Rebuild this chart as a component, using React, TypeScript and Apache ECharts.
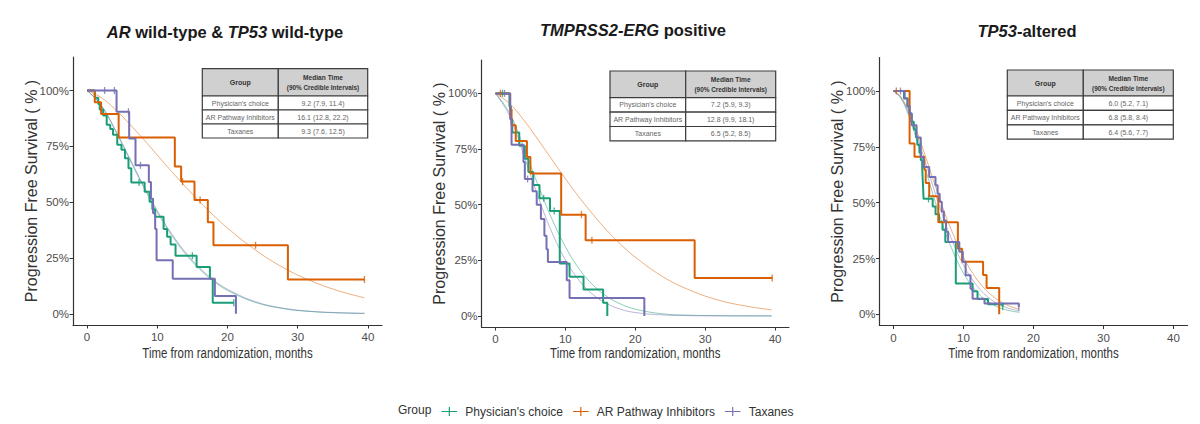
import React, { useEffect, useRef } from 'react';
import * as echarts from 'echarts';

type Pt = [number, number];

// ---------- shared labels ----------
const GROUPS = ["Physician's choice", 'AR Pathway Inhibitors', 'Taxanes'];
const X_TICKS = [0, 10, 20, 30, 40];
const Y_TICKS = [0, 25, 50, 75, 100];
const PANEL_TITLES = ['{i|AR} wild-type & {i|TP53} wild-type', '{i|TMPRSS2-ERG} positive', '{i|TP53}-altered'];
const X_NAME = 'Time from randomization, months';
const Y_NAME = 'Progression Free Survival ( % )';
const TABLE_HEADER = ['Group', 'Median Time', '(90% Credible Intervals)'];
const LEGEND_TITLE = 'Group';

// ---------- Panel 1: AR wild-type & TP53 wild-type ----------
const km1Phys: Pt[] = [[0, 100], [1.1, 96.7], [1.6, 94], [1.8, 91.5], [2.3, 88.8], [2.8, 84.7], [3.3, 82.8], [3.7, 80.2], [4.3, 75.7], [4.9, 73.5], [5.4, 69.7], [5.9, 65.2], [6.3, 58.8], [8.2, 54.7], [8.9, 50.2], [9.3, 46.8], [9.7, 43.5], [10.9, 38], [11.4, 34.5], [11.9, 31], [12.6, 26], [15.6, 21], [17.5, 15.7], [17.9, 5], [20.9, 5]];
const km1Arpi: Pt[] = [[0, 100], [1.1, 94.7], [2.0, 89.5], [4.5, 79], [12.5, 66], [13.4, 59.2], [15.3, 51], [17.2, 41], [18.0, 30.7], [28.6, 15.4], [39.5, 15.4]];
const km1Tax: Pt[] = [[0, 100], [4.2, 90.5], [6.0, 78.5], [6.9, 66.5], [8.8, 59], [9.1, 51.5], [9.4, 45], [9.7, 38], [9.9, 24], [12.2, 15.7], [18.2, 8], [21.2, 0]];
const cens1Phys: Pt[] = [[7.4, 58.8], [15.0, 26], [20.9, 5]];
const cens1Arpi: Pt[] = [[13.6, 59.2], [16.1, 51], [24.0, 30.7], [39.5, 15.4]];
const cens1Tax: Pt[] = [[2.5, 100], [3.9, 100], [5.9, 90.5], [7.6, 66.5]];
const fit1T = [0, 2, 4, 6, 8, 10, 12, 14, 16, 18, 20, 24, 28, 32, 36, 39.5];
const fit1Phys = [100, 93.4, 82.2, 69.6, 57.1, 45.5, 35.4, 26.9, 20.1, 14.7, 10.5, 5.1, 2.3, 1.0, 0.4, 0.2];
const fit1Arpi = [100, 96.9, 91.6, 85.2, 78.3, 71.1, 63.9, 57.0, 50.3, 44.1, 38.4, 28.5, 20.6, 14.6, 10.1, 7.2];
const fit1Tax = [100, 93.5, 82.5, 70.1, 57.7, 46.2, 36.1, 27.6, 20.7, 15.2, 11.0, 5.4, 2.5, 1.1, 0.5, 0.2];
const tab1 = ['9.2 (7.9, 11.4)', '16.1 (12.8, 22.2)', '9.3 (7.6, 12.5)'];

// ---------- Panel 2: TMPRSS2-ERG positive ----------
const km2Phys: Pt[] = [[0, 100], [2.0, 94.1], [2.2, 88.2], [2.4, 82.4], [3.4, 76.5], [4.2, 70.6], [4.7, 64.7], [5.4, 58.8], [6.3, 52.9], [7.8, 47.1], [9.2, 23.5], [10.6, 17.6], [12.6, 11.8], [15.4, 5.9], [16.0, 0]];
const km2Arpi: Pt[] = [[0, 100], [2.1, 92.9], [2.3, 85.7], [2.9, 78.6], [4.5, 71.4], [5.0, 64], [9.4, 45.5], [12.9, 34], [28.5, 17], [39.6, 17]];
const km2Tax: Pt[] = [[0, 100], [2.1, 88.5], [2.3, 76.9], [4.0, 69.2], [4.2, 61.5], [5.3, 56], [5.9, 50], [6.5, 43.5], [7.0, 36], [7.3, 30], [7.5, 24.2], [10.2, 16], [10.6, 8], [21.3, 0]];
const cens2Phys: Pt[] = [[1.0, 100], [6.9, 52.9], [8.4, 47.1]];
const cens2Arpi: Pt[] = [[0.7, 100], [12.3, 45.5], [13.8, 34], [39.6, 17]];
const cens2Tax: Pt[] = [[1.3, 100], [4.6, 61.5]];
const fit2T = [0, 2, 4, 6, 8, 10, 12, 14, 16, 18, 20, 24, 28, 32, 36, 39.5];
const fit2Phys = [100, 91.3, 76.1, 59.5, 44.1, 31.1, 21.0, 13.7, 8.6, 5.2, 3.0, 0.9, 0.3, 0.1, 0, 0];
const fit2Arpi = [100, 95.5, 88.2, 79.6, 70.6, 61.7, 53.2, 45.4, 38.2, 31.9, 26.4, 17.5, 11.3, 7.0, 4.3, 2.7];
const fit2Tax = [100, 90.0, 72.7, 54.4, 38.1, 25.2, 15.8, 9.4, 5.4, 2.9, 1.5, 0.4, 0.1, 0, 0, 0];
const tab2 = ['7.2 (5.9, 9.3)', '12.8 (9.9, 18.1)', '6.5 (5.2, 8.5)'];

// ---------- Panel 3: TP53-altered ----------
const km3Phys: Pt[] = [[0, 100], [1.5, 96.6], [2.0, 93.1], [2.3, 89.7], [2.6, 86.2], [2.9, 82.8], [3.2, 79.3], [3.4, 75.9], [3.7, 72.4], [3.9, 69], [4.1, 65.5], [4.2, 58.6], [4.3, 51.7], [5.6, 48.3], [6.0, 44.8], [6.5, 41.4], [7.0, 37.9], [7.4, 32.4], [8.9, 13.8], [11.3, 10.3], [12.0, 6.9], [13.5, 4.5], [15.6, 3.4]];
const km3Arpi: Pt[] = [[0, 100], [2.3, 76.5], [3.0, 70.6], [4.4, 64.7], [4.6, 58.8], [5.1, 52.9], [6.4, 41.2], [9.2, 29.4], [9.8, 23.5], [12.8, 17.6], [13.3, 11.8], [15.1, 0]];
const km3Tax: Pt[] = [[0, 100], [1.6, 96.7], [2.0, 93.3], [2.3, 90], [2.6, 84.7], [3.3, 79.2], [3.9, 70.5], [4.3, 66], [5.1, 61.5], [6.0, 57.8], [6.3, 54], [6.6, 50.4], [6.9, 46], [7.2, 42], [7.5, 37], [7.8, 32.4], [9.4, 28], [9.9, 23.5], [10.3, 17.5], [11.0, 11.5], [11.3, 7], [13.0, 4.8], [17.9, 3.3]];
const cens3Phys: Pt[] = [[5.0, 51.7], [15.6, 3.4]];
const cens3Arpi: Pt[] = [[0.4, 100]];
const cens3Tax: Pt[] = [[1.0, 100], [17.9, 3.3]];
const fit3T = [0, 1, 2, 3, 4, 5, 6, 7, 8, 10, 12, 14, 16, 18];
const fit3Phys = [100, 97.0, 90.4, 81.4, 71.1, 60.4, 50.0, 40.4, 31.8, 18.4, 9.7, 4.7, 2.1, 0.9];
const fit3Arpi = [100, 97.6, 92.2, 84.7, 76.0, 66.7, 57.3, 48.2, 39.8, 25.6, 15.3, 8.6, 4.5, 2.2];
const fit3Tax = [100, 97.3, 91.3, 83.2, 73.7, 63.8, 53.8, 44.4, 35.9, 22.0, 12.5, 6.5, 3.2, 1.5];
const tab3 = ['6.0 (5.2, 7.1)', '6.8 (5.8, 8.4)', '6.4 (5.6, 7.7)'];

// ---------- styling / layout ----------
const COLORS = ['#1b9e77', '#d95f02', '#7570b3'];
const FONT = '"Liberation Sans", Arial, sans-serif';
const GRIDS = [
  { left: 73, top: 57, width: 309, height: 268 },
  { left: 481.5, top: 60, width: 307.5, height: 267 },
  { left: 879.5, top: 57.5, width: 308, height: 268 },
];
const TITLE_POS = [[225, 32], [633, 30], [1027, 31]];
const TABLE_POS = [
  { x: 202.3, y: 68.7, c1: 76, c2: 89.4, hh: 27.3, rh: 14 },
  { x: 610, y: 71, c1: 75.7, c2: 90, hh: 26.7, rh: 14.4 },
  { x: 1007.3, y: 70, c1: 76, c2: 90, hh: 26, rh: 14.4 },
];

const PANELS = [
  { km: [km1Phys, km1Arpi, km1Tax], cens: [cens1Phys, cens1Arpi, cens1Tax], fitT: fit1T, fit: [fit1Phys, fit1Arpi, fit1Tax], tab: tab1 },
  { km: [km2Phys, km2Arpi, km2Tax], cens: [cens2Phys, cens2Arpi, cens2Tax], fitT: fit2T, fit: [fit2Phys, fit2Arpi, fit2Tax], tab: tab2 },
  { km: [km3Phys, km3Arpi, km3Tax], cens: [cens3Phys, cens3Arpi, cens3Tax], fitT: fit3T, fit: [fit3Phys, fit3Arpi, fit3Tax], tab: tab3 },
];

function buildOption() {
  const grid: any[] = [];
  const xAxis: any[] = [];
  const yAxis: any[] = [];
  const series: any[] = [];
  const graphic: any[] = [];

  PANELS.forEach((panel, p) => {
    const G = GRIDS[p];
    grid.push({ ...G, containLabel: false });
    xAxis.push({
      type: 'value', gridIndex: p, min: -2, max: 42,
      axisLine: { show: true, onZero: false, lineStyle: { color: '#333', width: 1.2 } },
      axisTick: { show: true, length: 3.5, customValues: X_TICKS, lineStyle: { color: '#333' } },
      axisLabel: { customValues: X_TICKS, fontSize: 11.5, color: '#4d4d4d', margin: 6 },
      splitLine: { show: false },
    });
    yAxis.push({
      type: 'value', gridIndex: p, min: -5, max: 115,
      name: Y_NAME, nameLocation: 'middle', nameGap: 34, nameMoveOverlap: false,
      nameTextStyle: { fontSize: 16, color: '#333' },
      axisLine: { show: true, onZero: false, lineStyle: { color: '#333', width: 1.2 } },
      axisTick: { show: true, length: 3.5, customValues: Y_TICKS, lineStyle: { color: '#333' } },
      axisLabel: { customValues: Y_TICKS, fontSize: 11.5, color: '#4d4d4d', margin: 4, formatter: (v: number) => v + '%' },
      splitLine: { show: false },
    });

    GROUPS.forEach((g, i) => {
      series.push({
        type: 'line', name: 'fit', xAxisIndex: p, yAxisIndex: p, silent: true,
        data: panel.fitT.map((t, k) => [t, panel.fit[i][k]]),
        smooth: 0.4, symbol: 'none', showSymbol: false, z: 2,
        lineStyle: { width: 1, color: COLORS[i], opacity: 0.5 },
      });
    });
    GROUPS.forEach((g, i) => {
      series.push({
        type: 'line', name: g, xAxisIndex: p, yAxisIndex: p, step: 'end',
        data: panel.km[i], symbol: 'none', showSymbol: false, z: 3,
        lineStyle: { width: 2, color: COLORS[i] }, itemStyle: { color: COLORS[i] },
      });
      series.push({
        type: 'scatter', name: 'censor', xAxisIndex: p, yAxisIndex: p, silent: true,
        data: panel.cens[i], symbol: 'rect', symbolSize: [1.3, 7], z: 4,
        itemStyle: { color: COLORS[i] },
      });
    });

    // x-axis title (condensed like the source figure)
    graphic.push({
      type: 'text', x: G.left + G.width / 2, y: 353, scaleX: 0.74, z: 100,
      style: { text: X_NAME, font: '15.5px "Liberation Sans", Arial, sans-serif', fill: '#333', textAlign: 'center', textVerticalAlign: 'middle' },
    });

    // panel title
    const rf = { fontStyle: 'italic', fontWeight: 'bold', fontSize: 16.5, fontFamily: 'Liberation Sans' };
    graphic.push({
      type: 'text', x: TITLE_POS[p][0], y: TITLE_POS[p][1], z: 100,
      style: {
        text: PANEL_TITLES[p], font: 'bold 16.5px "Liberation Sans", Arial, sans-serif', fill: '#1a1a1a',
        textAlign: 'center', textVerticalAlign: 'middle', rich: { i: rf },
      },
    });

    // table
    const t = TABLE_POS[p];
    const border = { stroke: '#3c3c3c', lineWidth: 1.2 };
    graphic.push({ type: 'rect', z: 100, shape: { x: t.x, y: t.y, width: t.c1, height: t.hh }, style: { fill: '#d0d0d0', ...border } });
    graphic.push({ type: 'rect', z: 100, shape: { x: t.x + t.c1, y: t.y, width: t.c2, height: t.hh }, style: { fill: '#d0d0d0', ...border } });
    graphic.push({ type: 'text', z: 101, x: t.x + t.c1 / 2, y: t.y + t.hh / 2, style: { text: TABLE_HEADER[0], font: 'bold 7px "Liberation Sans"', fill: '#333', textAlign: 'center', textVerticalAlign: 'middle' } });
    graphic.push({ type: 'text', z: 101, x: t.x + t.c1 + t.c2 / 2, y: t.y + t.hh * 0.32, style: { text: TABLE_HEADER[1], font: 'bold 6.6px "Liberation Sans"', fill: '#333', textAlign: 'center', textVerticalAlign: 'middle' } });
    graphic.push({ type: 'text', z: 101, x: t.x + t.c1 + t.c2 / 2, y: t.y + t.hh * 0.7, style: { text: TABLE_HEADER[2], font: 'bold 6.4px "Liberation Sans"', fill: '#333', textAlign: 'center', textVerticalAlign: 'middle' } });
    GROUPS.forEach((g, i) => {
      const ry = t.y + t.hh + i * t.rh;
      graphic.push({ type: 'rect', z: 100, shape: { x: t.x, y: ry, width: t.c1, height: t.rh }, style: { fill: '#fff', ...border } });
      graphic.push({ type: 'rect', z: 100, shape: { x: t.x + t.c1, y: ry, width: t.c2, height: t.rh }, style: { fill: '#fff', ...border } });
      graphic.push({ type: 'text', z: 101, x: t.x + t.c1 / 2, y: ry + t.rh / 2, style: { text: g, font: '7px "Liberation Sans"', fill: '#666', textAlign: 'center', textVerticalAlign: 'middle' } });
      graphic.push({ type: 'text', z: 101, x: t.x + t.c1 + t.c2 / 2, y: ry + t.rh / 2, style: { text: panel.tab[i], font: '7px "Liberation Sans"', fill: '#666', textAlign: 'center', textVerticalAlign: 'middle' } });
    });
  });

  graphic.push({
    type: 'text', x: 398, y: 410, z: 100,
    style: { text: LEGEND_TITLE, font: '12px "Liberation Sans"', fill: '#333', textVerticalAlign: 'middle' },
  });

  return {
    animation: false,
    backgroundColor: '#fff',
    textStyle: { fontFamily: FONT },
    grid, xAxis, yAxis, series, graphic,
    legend: {
      data: GROUPS, left: 441.5, top: 405.5, padding: 0, itemWidth: 16, itemHeight: 9, itemGap: 10,
      icon: 'path://M0,4H16V5.2H0Z M7.4,0H8.6V9.2H7.4Z',
      textStyle: { fontSize: 12, color: '#333', fontFamily: 'Liberation Sans', padding: [0, 0, 0, 3] },
    },
  };
}

export default function App() {
  const ref = useRef<HTMLDivElement>(null);
  useEffect(() => {
    if (!ref.current) return;
    const chart = echarts.init(ref.current, null, { renderer: 'svg' });
    chart.setOption(buildOption() as any);
    return () => chart.dispose();
  }, []);
  return <div ref={ref} style={{ position: 'absolute', left: 0, top: 0, width: 1200, height: 424, background: '#fff' }} />;
}
